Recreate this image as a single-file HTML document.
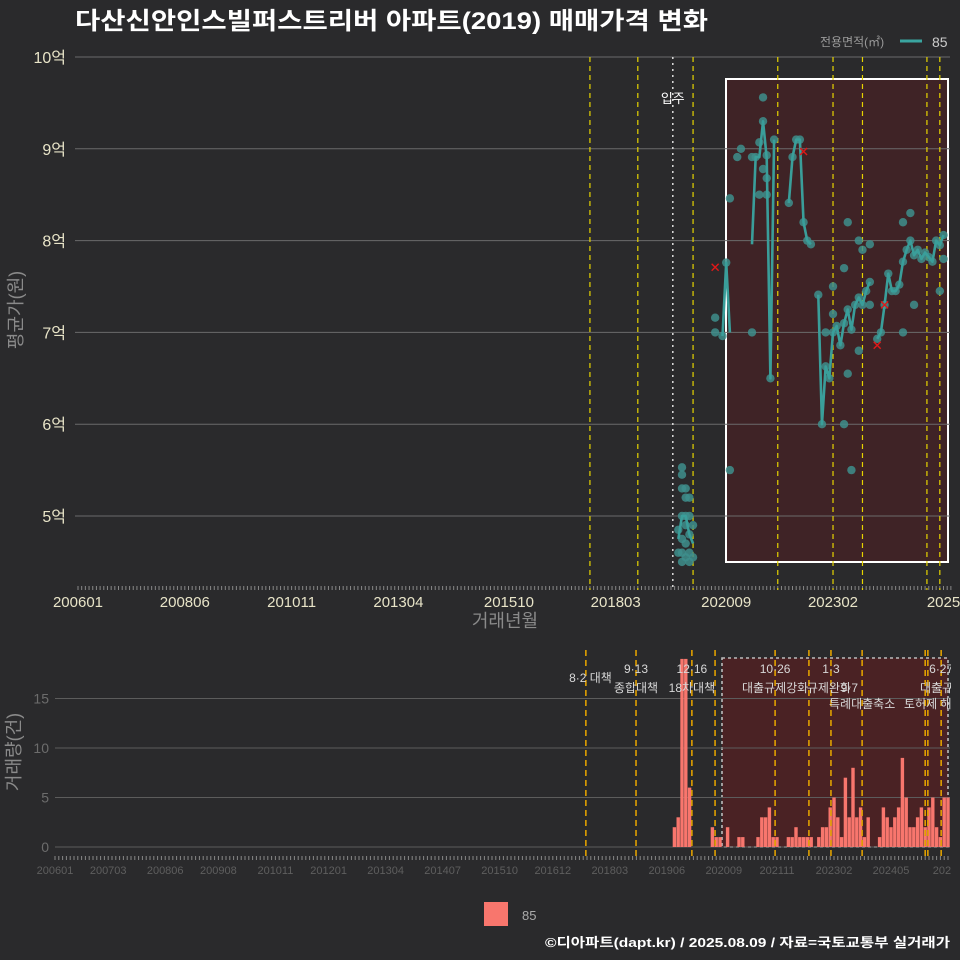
<!DOCTYPE html>
<html><head><meta charset="utf-8">
<style>
html,body{margin:0;padding:0;background:#2a2a2c;}
svg{display:block;font-family:"Liberation Sans","Noto Sans CJK KR",sans-serif;}
</style></head>
<body>
<svg id="c" width="960" height="960" viewBox="0 0 960 960">
<defs><clipPath id="botClip"><rect x="0" y="640" width="951" height="245"/></clipPath></defs>
<rect width="960" height="960" fill="#2a2a2c"/>
<text x="75" y="29" fill="#ffffff" font-size="24" font-weight="bold" textLength="633" lengthAdjust="spacingAndGlyphs">다산신안인스빌퍼스트리버 아파트(2019) 매매가격 변화</text>
<g>
<text x="820" y="46" fill="#9a9a9a" font-size="12">전용면적(㎡)</text>
<line x1="900" y1="41" x2="922" y2="41" stroke="#3aa5a0" stroke-width="3"/>
<text x="932" y="47" fill="#cccccc" font-size="14">85</text>
</g>
<g id="topG"></g>
<g id="botG" clip-path="url(#botClip)"></g>
<text transform="translate(22,310) rotate(-90)" text-anchor="middle" fill="#8a8a8a" font-size="18">평균가(원)</text>
<text x="505" y="627" text-anchor="middle" fill="#8a8a8a" font-size="18">거래년월</text>
<text transform="translate(20,752) rotate(-90)" text-anchor="middle" fill="#8a8a8a" font-size="18">거래량(건)</text>
<g>
<rect x="484" y="902" width="24" height="24" fill="#f8766d"/>
<text x="522" y="920" fill="#aaaaaa" font-size="13">85</text>
</g>
<text x="950" y="947" text-anchor="end" fill="#ffffff" font-size="13" font-weight="bold" textLength="405" lengthAdjust="spacingAndGlyphs">©디아파트(dapt.kr) / 2025.08.09 / 자료=국토교통부 실거래가</text>
</svg>
<script>
// month index: 0 = 2006-01
const lineMonths = [163,164,165,166,167, 175,176,177, 183,184,185,186,187,188,189, 193,194,195,196,197,198,199, 201,202,203,204,205,206,207,208,209,210,211,212,213,214,215, 217,218,219,220,221,222,223,224,225,226,227,228,229,230,231,232,233,234,235];
const lineValues = [4.75,5.0,5.0,4.8,4.7, 6.96,7.76,7.0, 7.96,8.91,8.91,9.3,8.9,6.5,9.1, 8.41,8.91,9.1,9.1,8.2,8.0,7.96, 7.41,6.0,6.63,6.5,7.0,7.07,6.86,7.1,7.25,7.03,7.3,7.38,7.3,7.45,7.55, 6.93,7.0,7.3,7.64,7.45,7.45,7.52,7.77,7.9,8.0,7.84,7.9,7.8,7.87,7.82,7.77,8.0,7.95,8.06];
const lineBreaks = [167,177,189,199,215];
const dotMonths = [163,163,164,164,164,164,164,164,164,165,165,165,165,165,165,166,166,166,166,166,167,167, 173,173,175,176,177,177, 179,180,183,183,184,185,185,186,186,186,187,187,187,188,189, 193,194,195,196,197,198,199, 201,202,203,203,204,205,205,205,206,207,208,208,208,209,209,209,210,210,211,212,212,212,213,213,214,215,215,215, 217,218,219,220,221,222,223,224,224,224,225,226,226,227,227,228,229,230,231,232,233,234,234,235,235];
const dotValues = [4.6,4.85,5.53,5.45,5.3,5.0,4.75,4.6,4.5,5.3,5.2,5.0,4.9,4.7,4.55,5.2,5.0,4.8,4.6,4.5,4.9,4.55, 7.16,7.0,6.96,7.76,8.46,5.5, 8.91,9.0,8.91,7.0,8.91,9.07,8.5,9.56,9.3,8.78,8.5,8.68,8.93,6.5,9.1, 8.41,8.91,9.1,9.1,8.2,8.0,7.96, 7.41,6.0,6.63,7.0,6.5,7.0,7.5,7.2,7.07,6.86,7.1,7.7,6.0,7.25,8.2,6.55,7.03,5.5,7.3,7.38,8.0,6.8,7.3,7.9,7.45,7.55,7.96,7.3, 6.93,7.0,7.3,7.64,7.45,7.45,7.52,7.77,7.0,8.2,7.9,8.0,8.3,7.84,7.3,7.9,7.8,7.87,7.82,7.77,8.0,7.95,7.45,8.06,7.8];
const cancelMonths = [173,197,217,219];
const cancelValues = [7.71,8.97,6.86,7.3];
const yTicks = [10,9,8,7,6,5];
const xTickLabels = ['200601','200806','201011','201304','201510','201803','202009','202302','2025'];
const xTickMonths = [0,29,58,87,117,146,176,205,235];
const policyMonthsTop = [139,152,167,190,205,213,230.5,234];
const moveInMonth = 161.5;

const volMonths = [163,164,165,166,167,173,174,175,177,180,181,185,186,187,188,189,190,193,194,195,196,197,198,199,201,202,203,204,205,206,207,208,209,210,211,212,213,214,217,218,219,220,221,222,223,224,225,226,227,228,229,230,231,232,233,234,235];
const volCounts = [2,3,19,19,6,2,1,1,2,1,1,1,3,3,4,1,1,1,1,2,1,1,1,1,1,2,2,4,5,3,1,7,3,8,3,4,1,3,1,4,3,2,3,4,9,5,2,2,3,4,2,4,5,2,1,5,5];
const volTicks = [0,5,10,15];
const volXLabels = ['200601','200703','200806','200908','201011','201201','201304','201407','201510','201612','201803','201906','202009','202111','202302','202405','20250'];
const volXMonths = [0,14,29,43,58,72,87,102,117,131,146,161,176,190,205,220,235];
const policyMonthsBot = [139.7,152.9,167.6,173.7,189.5,198.4,204.2,212.4,229,229.7,233.2];
const policyNums = ['8·2 대책','9·13','12·16','10·26','1·3','9·7','6·27'];
const policyNumMonths = [139.7,152.9,167.6,189.5,204.2,212.4,233.2];
const policyDescs = ['종합대책','18차대책','대출규제강화','규제완화','특례대출축소','토허제 해제','대출규'];
const policyDescMonths = [152.9,167.6,189.5,204.2,212.4,229,233.2];

const NS='http://www.w3.org/2000/svg';
function mk(tag,attrs,parent){const e=document.createElementNS(NS,tag);for(const k in attrs)e.setAttribute(k,attrs[k]);parent.appendChild(e);return e;}
const xT = m => 78 + m*3.683;
const yT = v => 57 + (10-v)*91.8;
const xB = m => 55 + m*3.8;
const yB = c => 847 - c*9.9;

const topG=document.getElementById('topG');
let hb=mk('rect',{x:726,y:79,width:222,height:483,fill:'#3f2326',stroke:'#ffffff','stroke-width':2},topG);


yTicks.forEach(v=>{
  const g=mk('line',{x1:75,x2:950,y1:yT(v),y2:yT(v),stroke:'#6b6b6b','stroke-width':1},topG);
  
  
  const t=mk('text',{x:66,y:yT(v)+6,'text-anchor':'end',fill:'#e8e4c8','font-size':16},topG);
  t.textContent=v+'억';
  
  
});
for(let m=0;m<=237;m++){
  const tk=mk('line',{x1:xT(m),x2:xT(m),y1:586,y2:590,stroke:'#888','stroke-width':1},topG);
  
  
}
xTickLabels.forEach((l,i)=>{
  const t=mk('text',{x:xT(xTickMonths[i]),y:607,'text-anchor':'middle',fill:'#e8e4c8','font-size':15},topG);
  t.textContent=l;
  
  
});
policyMonthsTop.forEach(m=>{
  const l=mk('line',{x1:xT(m),x2:xT(m),y1:57,y2:590,stroke:'#e6d400','stroke-width':1.2,'stroke-dasharray':'5,4'},topG);
  
  
});
let mi=mk('line',{x1:xT(moveInMonth),x2:xT(moveInMonth),y1:57,y2:590,stroke:'#dddddd','stroke-width':1.5,'stroke-dasharray':'2,4'},topG);


let mt=mk('text',{x:xT(moveInMonth),y:103,'text-anchor':'middle',fill:'#ffffff','font-size':13},topG);
mt.textContent='입주';


dotMonths.forEach((m,i)=>{
  const c=mk('circle',{cx:xT(m),cy:yT(dotValues[i]),r:4.2,fill:'#3e8e8c','fill-opacity':0.85},topG);
  
  
});
let seg=[];
const segs=[];
lineMonths.forEach((m,i)=>{seg.push(xT(m)+','+yT(lineValues[i]));if(lineBreaks.includes(m)){segs.push(seg);seg=[];}});
if(seg.length)segs.push(seg);
segs.forEach(s=>{
  const p=mk('polyline',{points:s.join(' '),fill:'none',stroke:'#3a9e9a','stroke-width':2.6,'stroke-linejoin':'round'},topG);
  
  
});
cancelMonths.forEach((m,i)=>{
  const x=xT(m),y=yT(cancelValues[i]);
  const p=mk('path',{d:`M${x-3.5},${y-3.5}L${x+3.5},${y+3.5}M${x-3.5},${y+3.5}L${x+3.5},${y-3.5}`,stroke:'#e01818','stroke-width':1.4},topG);
  
  
});

const botG=document.getElementById('botG');
let bb=mk('rect',{x:722,y:658,width:226,height:189,fill:'#4a2224',stroke:'#bbbbbb','stroke-width':1.6,'stroke-dasharray':'3,3'},botG);


volTicks.forEach(v=>{
  const g=mk('line',{x1:55,x2:950,y1:yB(v),y2:yB(v),stroke:'#5c5c5c','stroke-width':1},botG);
  
  
  const t=mk('text',{x:49,y:yB(v)+5,'text-anchor':'end',fill:'#6c6c6c','font-size':14},botG);
  t.textContent=v;
  
  
});
for(let m=0;m<=237;m++){
  const tk=mk('line',{x1:xB(m),x2:xB(m),y1:856,y2:860,stroke:'#888','stroke-width':1},botG);
  
  
}
volXLabels.forEach((l,i)=>{
  const t=mk('text',{x:xB(volXMonths[i]),y:874,'text-anchor':'middle',fill:'#5e5e5e','font-size':11},botG);
  t.textContent=l;
  
  
});
volMonths.forEach((m,i)=>{
  const r=mk('rect',{x:xB(m)-1.7,y:yB(volCounts[i]),width:3.4,height:volCounts[i]*9.9,fill:'#f8766d'},botG);
  
  
});
policyMonthsBot.forEach(m=>{
  const l=mk('line',{x1:xB(m),x2:xB(m),y1:650,y2:860,stroke:'#e0a000','stroke-width':1.6,'stroke-dasharray':'6,4'},botG);
  
  
});
policyNums.forEach((l,i)=>{
  let x=xB(policyNumMonths[i]), y=673, anchor='middle';
  if(i===0){x+=26;y=682;anchor='end';}
  if(i===5){x=858;y=692;anchor='end';}
  const t=mk('text',{x:x,y:y,'text-anchor':anchor,fill:'#d8d8d8','font-size':12},botG);
  t.textContent=l;
  
  
});
policyDescs.forEach((l,i)=>{
  const m=policyDescMonths[i];
  let x=xB(m), y=692, anchor='middle';
  if(i===3){x=xB(m)-2;}
  if(i===4){x=829;y=708;anchor='start';}
  if(i===5){x=904;y=708;anchor='start';}
  if(i===6){x=920;anchor='start';}
  const t=mk('text',{x:x,y:y,'text-anchor':anchor,fill:'#d8d8d8','font-size':12},botG);
  t.textContent=l;
  
  
});
</script>
</body></html>
